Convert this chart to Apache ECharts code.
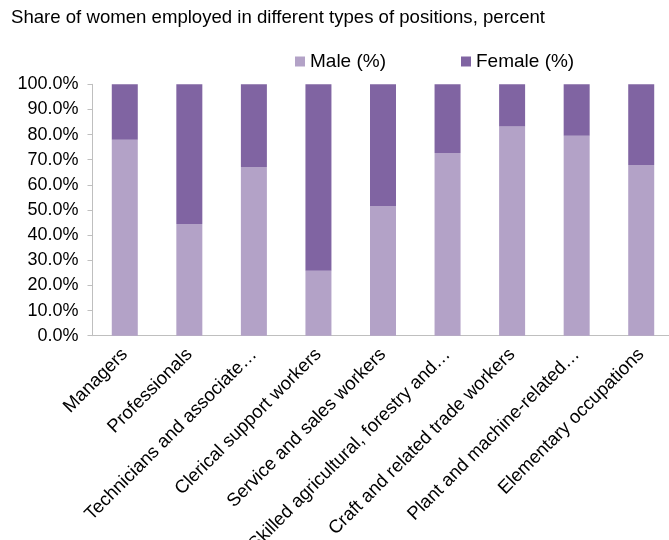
<!DOCTYPE html>
<html>
<head>
<meta charset="utf-8">
<script src="https://cdn.jsdelivr.net/npm/echarts@6/dist/echarts.min.js"></script>
<style>
html,body{margin:0;padding:0;background:#fff;}
#chart{width:669px;height:540px;}
</style>
</head>
<body>
<div id="chart"></div>
<script>
const titleText = 'Share of women employed in different types of positions, percent';
const categories = [
  'Managers',
  'Professionals',
  'Technicians and associate…',
  'Clerical support workers',
  'Service and sales workers',
  'Skilled agricultural, forestry and…',
  'Craft and related trade workers',
  'Plant and machine-related…',
  'Elementary occupations'
];
const seriesNames = ['Male (%)', 'Female (%)'];
const maleValues = [77.9, 44.4, 67.1, 25.8, 51.6, 72.7, 83.2, 79.5, 67.9];
const femaleValues = [22.1, 55.6, 32.9, 74.2, 48.4, 27.3, 16.8, 20.5, 32.1];

const chart = echarts.init(document.getElementById('chart'), null, {renderer: 'canvas'});
const font = 'Liberation Sans, Arial, sans-serif';
chart.setOption({
  animation: false,
  backgroundColor: '#ffffff',
  title: {
    text: titleText,
    left: 11, top: 8, padding: 0,
    textStyle: {fontFamily: font, fontSize: 18.6, fontWeight: 'normal', color: '#000'}
  },
  legend: {
    data: seriesNames,
    left: 295, top: 52, padding: 0,
    itemWidth: 10, itemHeight: 10, itemGap: 75,
    icon: 'rect',
    textStyle: {fontFamily: font, fontSize: 19, color: '#000'}
  },
  grid: {left: 92.5, top: 84.3, width: 581, height: 251.4, containLabel: false, outerBoundsMode: 'none'},
  xAxis: {
    type: 'category',
    data: categories,
    axisLine: {show: true, lineStyle: {color: '#BFBFBF', width: 1}},
    axisTick: {show: false},
    axisLabel: {rotate: 45, margin: 16, interval: 0, fontFamily: font, fontSize: 18.5, color: '#000'}
  },
  yAxis: {
    type: 'value',
    min: 0, max: 100, interval: 10,
    axisLine: {show: true, lineStyle: {color: '#BFBFBF', width: 1}},
    axisTick: {show: true, length: 5, lineStyle: {color: '#BFBFBF'}},
    splitLine: {show: false},
    axisLabel: {formatter: '{value}.0%', margin: 14, fontFamily: font, fontSize: 18, color: '#000'}
  },
  series: [
    {name: seriesNames[0], type: 'bar', stack: 'total', data: maleValues, barWidth: 26,
     itemStyle: {color: '#B3A2C7'}},
    {name: seriesNames[1], type: 'bar', stack: 'total', data: femaleValues, barWidth: 26,
     itemStyle: {color: '#8064A2'}}
  ]
});
</script>
</body>
</html>
